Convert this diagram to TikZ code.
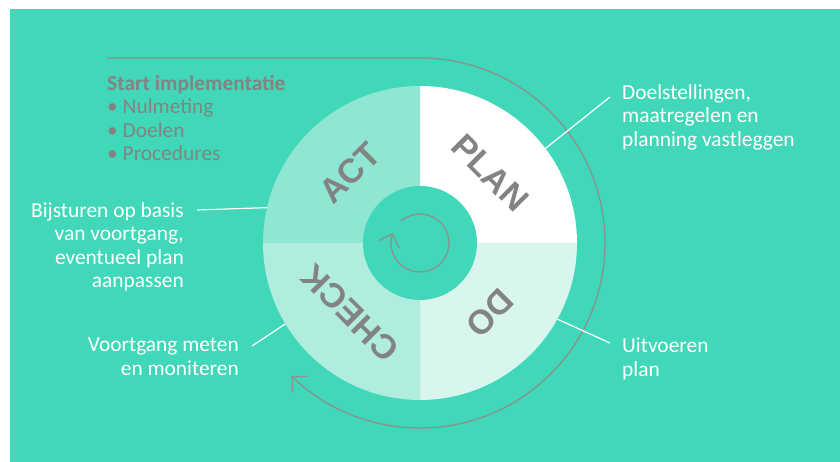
\documentclass[tikz,border=0pt]{standalone}
\usepackage{fontspec}
\setmainfont{Carlito}
\newfontfamily\quadfont{Liberation Sans}
\usetikzlibrary{arrows.meta}
\definecolor{bgGreen}{HTML}{40D8B8}
\definecolor{actFill}{HTML}{8FE6D2}
\definecolor{checkFill}{HTML}{B0EDDE}
\definecolor{doFill}{HTML}{D8F5EE}
\definecolor{lineGray}{HTML}{8A918E}
\definecolor{textGray}{HTML}{838383}
\tikzset{
  quadLabel/.style={font=\quadfont\bfseries\fontsize{34pt}{34pt}\selectfont, text=textGray, inner sep=0pt},
  whiteText/.style={font=\fontsize{21.4pt}{23.5pt}\selectfont, text=white, inner sep=0pt},
  connector/.style={draw=white, line width=1.2pt},
  cycleArrow/.style={draw=lineGray, line width=1.3pt, -{Straight Barb[length=11pt,width=22pt]}}
}
\begin{document}
\begin{tikzpicture}[x=1pt,y=1pt]
\useasboundingbox (0,0) rectangle (840,462);
\fill[white] (0,0) rectangle (840,462);
\fill[bgGreen] (10,0) rectangle (840,453);
\coordinate (C) at (420,219);

% quadrants
\fill[white] (C) -- ++(0,157) arc[start angle=90, end angle=0, radius=157] -- cycle;
\fill[doFill] (C) -- ++(157,0) arc[start angle=0, end angle=-90, radius=157] -- cycle;
\fill[checkFill] (C) -- ++(0,-157) arc[start angle=-90, end angle=-180, radius=157] -- cycle;
\fill[actFill] (C) -- ++(-157,0) arc[start angle=180, end angle=90, radius=157] -- cycle;
\fill[bgGreen] (C) circle (57);
\node[circle, minimum size=314pt, inner sep=0pt] (pie) at (C) {};

\node[quadLabel, rotate=-45] (planLabel) at ([shift={(45:99)}]C) {PLAN};
\node[quadLabel, rotate=-135] (doLabel) at ([shift={(-45:99)}]C) {DO};
\node[quadLabel, rotate=135] (checkLabel) at ([shift={(-135:99)}]C) {CHECK};
\node[quadLabel, rotate=45] (actLabel) at ([shift={(135:99)}]C) {ACT};

% cycle arrows
\draw[cycleArrow] (C) ++(131:29) arc[start angle=131, end angle=-200, radius=29];
\draw[cycleArrow] (107,404) -- (420,404) arc[start angle=90, end angle=-134, radius=185];

% texts
\node[whiteText, text=textGray, align=left, anchor=north west] (startText) at (107,387)
  {\textbf{Start implementatie}\\\textbullet\ Nulmeting\\\textbullet\ Doelen\\\textbullet\ Procedures};
\node[whiteText, align=left, anchor=north west] (planText) at (622,378)
  {Doelstellingen,\\maatregelen en\\planning vastleggen};
\node[whiteText, align=left, anchor=north west] (doText) at (622,124) {Uitvoeren\\plan};
\node[whiteText, align=right, anchor=north east] (checkText) at (239,124) {Voortgang meten\\en moniteren};
\node[whiteText, align=right, anchor=north east] (actText) at (184,260)
  {Bijsturen op basis\\van voortgang,\\eventueel plan\\aanpassen};

% connectors
\coordinate (planTip) at (610,365);
\coordinate (doTip) at (610,119);
\coordinate (checkTip) at (252,116);
\coordinate (actTip) at (197,252);
\draw[connector] (pie.37.7) -- (planTip);
\draw[connector] (pie.331.5) -- (doTip);
\draw[connector] (pie.211.3) -- (checkTip);
\draw[connector] (pie.167.9) -- (actTip);
\end{tikzpicture}
\end{document}
